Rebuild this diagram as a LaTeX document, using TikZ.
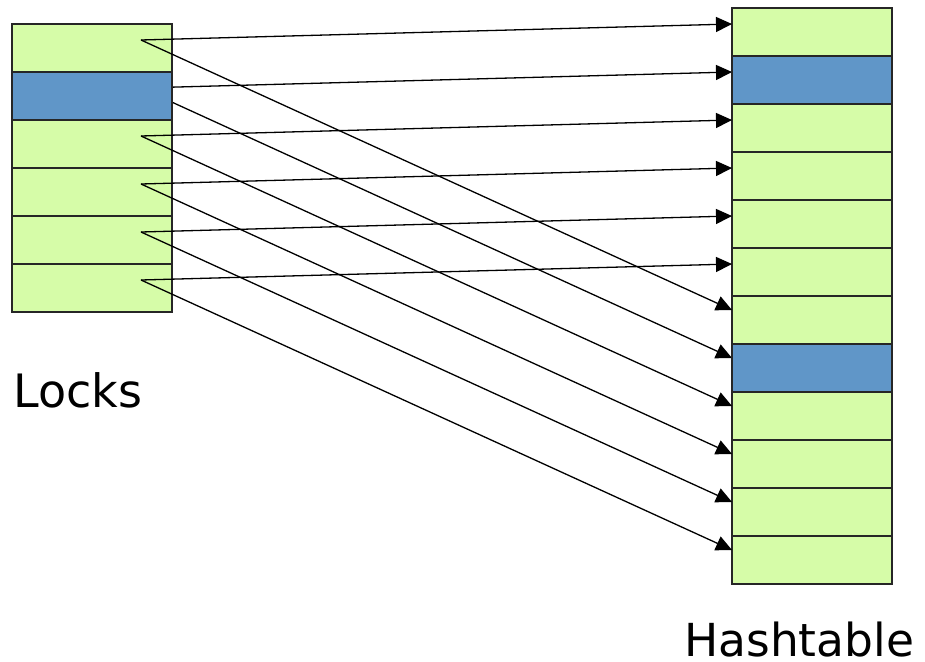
\documentclass[tikz,border=0pt]{standalone}
\usepackage{fontspec}
\setmainfont{DejaVu Sans}
\usetikzlibrary{arrows.meta,calc}
\definecolor{cellgreen}{HTML}{D6FCA8}
\definecolor{cellblue}{HTML}{6096C8}
\tikzset{
  cell/.style={draw=black!85, line width=1.6pt, fill=cellgreen, minimum width=160pt, minimum height=48pt, inner sep=0pt, outer sep=0pt},
  bluecell/.style={cell, fill=cellblue, line width=2pt},
  ptr/.style={draw=black, line width=1.3pt, -{Triangle[length=16pt,width=15pt]}},
  lbl/.style={font=\fontsize{46}{50}\selectfont, anchor=base west, inner sep=0pt}
}
\begin{document}
\begin{tikzpicture}[x=1pt,y=-1pt]
\useasboundingbox (0,0) rectangle (925,661);
% left column (Locks)
\foreach \i in {0,...,5}{
  \node[cell] (L\i) at (92,{48+48*\i}) {};
}
% right column (Hashtable)
\foreach \j in {0,...,11}{
  \node[cell] (R\j) at (812,{32+48*\j}) {};
}
% start points of the pointers
\foreach \i in {0,...,5}{
  \coordinate (S\i) at ($(L\i.north west)+(129,16)$);
}
% pointers
\foreach \i [evaluate=\i as \k using int(\i+6)] in {0,...,5}{
  \draw[ptr] (S\i) -- ($(R\i.north west)+(0,16)$);
  \draw[ptr] (S\i) -- ($(R\k.north west)+(0,14)$);
}
% blue cells drawn over pointers
\node[bluecell] (L1b) at (L1) {};
\node[bluecell] (R1b) at (R1) {};
\node[bluecell] (R7b) at (R7) {};
% labels
\node[lbl] (locks) at (13,407) {Locks};
\node[lbl] (hash) at (684,656) {\fontsize{45.5}{50}\selectfont Hashtable};
\end{tikzpicture}
\end{document}
